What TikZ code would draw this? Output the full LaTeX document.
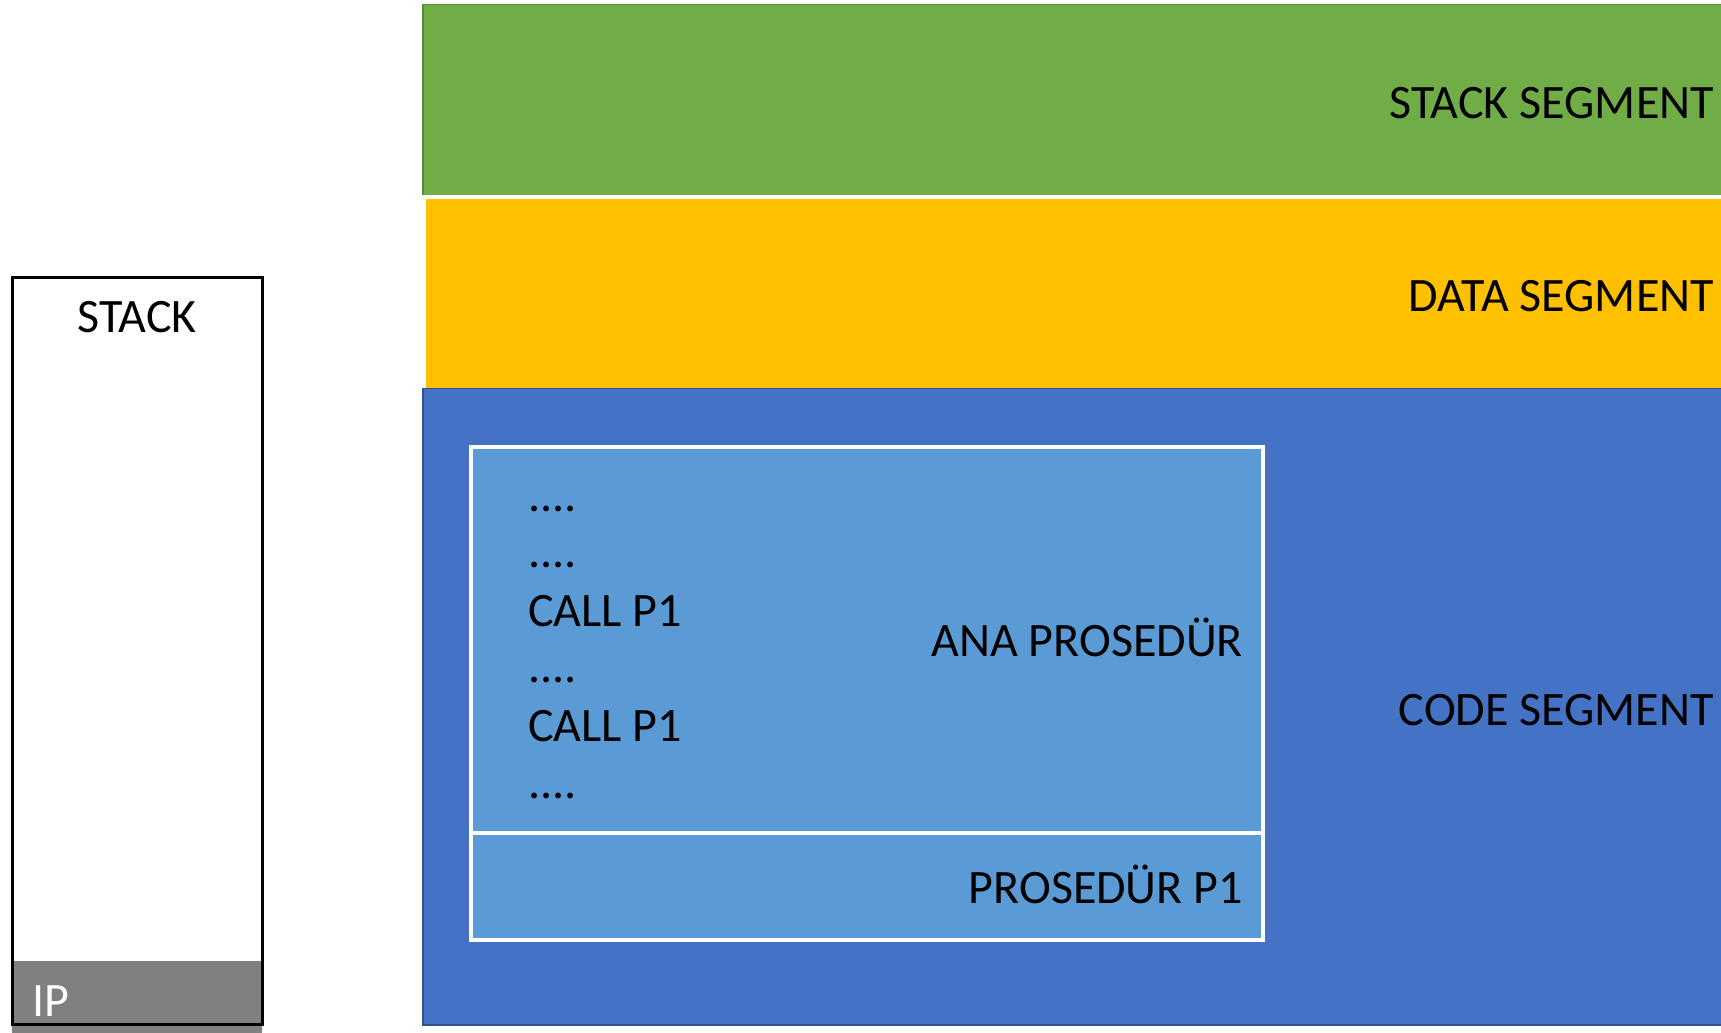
\documentclass[tikz,border=0pt]{standalone}
\usepackage{fontspec}
\setmainfont{Carlito}
\definecolor{sgreen}{HTML}{70AD47}
\definecolor{sgreenb}{HTML}{5A8A3A}
\definecolor{syellow}{HTML}{FFC000}
\definecolor{sblue}{HTML}{4472C4}
\definecolor{sblueb}{HTML}{2F528F}
\definecolor{slblue}{HTML}{5B9BD5}
\definecolor{sgray}{HTML}{808080}
\begin{document}
\begin{tikzpicture}[x=1pt,y=-1pt,
  lbl/.style={inner sep=0pt,font=\fontsize{48}{57}\selectfont,text=black},
  seglbl/.style={lbl,anchor=base east},
  codelbl/.style={lbl,anchor=base west}]
\useasboundingbox (0,0) rectangle (1721,1033);
% segments
\fill[sgreen] (423,4.5) rectangle (1725,195);
\draw[sgreenb,line width=1.5pt] (1725,4.5) -- (423,4.5) -- (423,195);
\fill[syellow] (426,199) rectangle (1725,388);
\fill[sblue] (423,388.5) rectangle (1725,1025);
\draw[sblueb,line width=1.5pt] (1725,388.5) -- (423,388.5) -- (423,1025) -- (1725,1025);
% inner procedure box
\draw[white,line width=3.5pt,fill=slblue] (471,447) rectangle (1263,940);
\draw[white,line width=3.5pt] (471,833) -- (1263,833);
% stack box
\fill[white] (12,277) rectangle (262,1024);
\fill[sgray] (12,961) rectangle (262,1033);
\draw[black,line width=3pt] (12,277) rectangle (262,1024);
% labels
\node[seglbl] (ss) at (1714,118.5) {STACK SEGMENT};
\node[seglbl] (ds) at (1714,311) {DATA SEGMENT};
\node[seglbl] (cs) at (1714,725) {CODE SEGMENT};
\node[seglbl] (ana) at (1243,656) {ANA PROSEDÜR};
\node[seglbl] (p1) at (1243,903) {PROSEDÜR P1};
\node[codelbl] (l1) at (528,511) {....};
\node[codelbl] (l2) at (528,567) {....};
\node[codelbl] (l3) at (528,626) {CALL P1};
\node[codelbl] (l4) at (528,682) {....};
\node[codelbl] (l5) at (528,741) {CALL P1};
\node[codelbl] (l6) at (528,798) {....};
\node[lbl,anchor=base] (stk) at (137,332) {STACK};
\node[lbl,anchor=base west,text=white] (ip) at (32,1016) {IP};
\end{tikzpicture}
\end{document}
